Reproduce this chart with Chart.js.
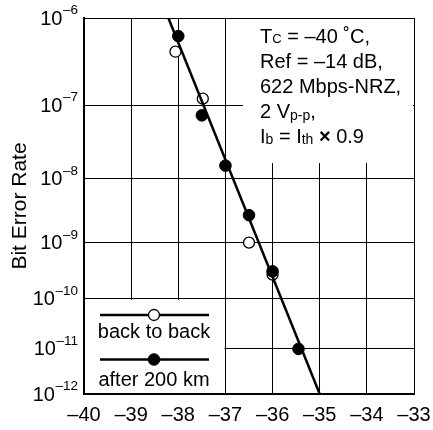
<!DOCTYPE html>
<html>
<head>
<meta charset="utf-8">
<script src="https://cdn.jsdelivr.net/npm/chart.js@4.4.1/dist/chart.umd.min.js"></script>
<style>
  body { margin: 0; background: #fff; }
  #wrap { width: 433px; height: 430px; }
</style>
</head>
<body>
<div id="wrap"><canvas id="chart" width="433" height="430"></canvas></div>
<script>
// received optical power (dBm) and bit error rate
const backX = [-38.06, -37.48, -36.5, -36.0];
const backBer = [4.3e-7, 1.2e-7, 1.0e-9, 2.8e-10];
const afterX = [-38.0, -37.5, -37.0, -36.5, -36.0, -35.45];
const afterBer = [6.4e-7, 7.4e-8, 1.55e-8, 2.8e-9, 3.2e-10, 1.0e-11];
// fitted line through the points
const fitX = [-38.21, -35.0];
const fitBer = [1e-6, 1e-12];

const xTicks = [-40, -39, -38, -37, -36, -35, -34, -33];
const berExps = [6, 7, 8, 9, 10, 11, 12];

const seriesNames = ['back to back', 'after 200 km'];
const noteLines = [
  [['T', 20, 0], ['C', 13, 0], [' = \u201340 \u02daC,', 20, 0]],
  [['Ref = \u201314 dB,', 20, 0]],
  [['622 Mbps-NRZ,', 20, 0]],
  [['2 V', 20, 0], ['p-p', 14, 2], [',', 20, 0]],
  [['I', 20, 0], ['b', 14, 1], [' = I', 20, 0], ['th', 14, 1], [' ', 20, 0], ['\u00d7', 'bold 20', 0], [' 0.9', 20, 0]]
];

const FONT = '"Liberation Sans", Arial, sans-serif';

// BER axis is not a plain log axis, the decades get closer going down
function tOf(exp) { return Math.pow(exp, -0.15); }
function tBer(ber) { return tOf(-Math.log10(ber)); }

function pts(xs, bers) {
  return xs.map((x, i) => ({ x: x, y: tBer(bers[i]) }));
}

// white boxes behind the legend and the note (they hide the grid)
const boxes = {
  id: 'boxes',
  beforeDatasetsDraw(chart) {
    const ctx = chart.ctx, a = chart.chartArea;
    const xs = chart.scales.x, ys = chart.scales.y;
    ctx.save();
    ctx.fillStyle = '#fff';
    // legend box: -40..-37, 1e-12..1e-10
    const lx = xs.getPixelForValue(-37);
    const ly = ys.getPixelForValue(tOf(10));
    ctx.fillRect(a.left + 1, ly + 1, lx - a.left - 2, a.bottom - ly - 2);
    // note box top right
    ctx.fillRect(a.left + 159, a.top + 1, a.right - a.left - 160, 144);
    ctx.restore();
  },
  afterDraw(chart) {
    const ctx = chart.ctx, a = chart.chartArea;
    const ys = chart.scales.y;
    ctx.save();
    ctx.fillStyle = '#000';
    ctx.textBaseline = 'alphabetic';

    // y tick labels 10^-n
    berExps.forEach(n => {
      const py = ys.getPixelForValue(tOf(n));
      ctx.font = '13.5px ' + FONT;
      const sup = '\u2013' + n;
      const sw = ctx.measureText(sup).width;
      ctx.textAlign = 'left';
      ctx.fillText(sup, 78 - sw, py - 4);
      ctx.font = '20px ' + FONT;
      ctx.textAlign = 'right';
      ctx.fillText('10', 78 - sw - 0.5, py + 6.5);
    });

    // y axis title
    ctx.save();
    ctx.translate(26, (a.top + a.bottom) / 2);
    ctx.rotate(-Math.PI / 2);
    ctx.textAlign = 'center';
    ctx.font = '21px ' + FONT;
    ctx.fillText('Bit Error Rate', 0, 0);
    ctx.restore();

    // note text
    ctx.textAlign = 'left';
    noteLines.forEach((runs, i) => {
      let px = a.left + 176;
      const base = a.top + 24.5 + i * 25.2;
      runs.forEach(r => {
        ctx.font = r[1] + 'px ' + FONT;
        ctx.fillText(r[0], px, base + r[2]);
        px += ctx.measureText(r[0]).width;
      });
    });

    // legend
    const cx = a.left + 70;
    const rows = [
      { ds: chart.data.datasets[2], lineY: a.bottom - 79, textY: a.bottom - 56 },
      { ds: chart.data.datasets[0], lineY: a.bottom - 34.5, textY: a.bottom - 8 }
    ];
    rows.forEach(r => {
      ctx.strokeStyle = '#000';
      ctx.lineWidth = 2.5;
      ctx.beginPath();
      ctx.moveTo(cx - 54, r.lineY);
      ctx.lineTo(cx + 55, r.lineY);
      ctx.stroke();
      ctx.beginPath();
      ctx.arc(cx, r.lineY, r.ds.pointRadius, 0, Math.PI * 2);
      ctx.fillStyle = r.ds.pointBackgroundColor;
      ctx.fill();
      ctx.lineWidth = r.ds.pointBorderWidth;
      ctx.stroke();
      ctx.fillStyle = '#000';
      ctx.font = '20px ' + FONT;
      ctx.textAlign = 'center';
      ctx.fillText(r.ds.label, cx, r.textY);
    });
    ctx.restore();
  }
};

const ctx = document.getElementById('chart').getContext('2d');

const myChart = new Chart(ctx, {
  type: 'scatter',
  data: {
    datasets: [
      {
        label: seriesNames[1],
        data: pts(afterX, afterBer),
        pointRadius: 5.8,
        pointBackgroundColor: '#000',
        pointBorderColor: '#000',
        pointBorderWidth: 1,
        showLine: false
      },
      {
        label: 'fit',
        data: pts(fitX, fitBer),
        showLine: true,
        borderColor: '#000',
        borderWidth: 2.5,
        pointRadius: 0
      },
      {
        label: seriesNames[0],
        data: pts(backX, backBer),
        pointRadius: 5.5,
        pointBackgroundColor: '#fff',
        pointBorderColor: '#000',
        pointBorderWidth: 1.3,
        showLine: false
      }
    ]
  },
  options: {
    responsive: false,
    animation: false,
    devicePixelRatio: 1,
    layout: { padding: { top: 18, right: 19, left: 0, bottom: 0 } },
    plugins: { legend: { display: false }, tooltip: { enabled: false } },
    scales: {
      x: {
        type: 'linear',
        min: -40,
        max: -33,
        afterBuildTicks: s => { s.ticks = xTicks.map(v => ({ value: v })); },
        afterFit: s => { s.height = 36; s.paddingLeft = 0; s.paddingRight = 0; },
        ticks: {
          color: '#000',
          font: { family: FONT, size: 20 },
          padding: 9,
          maxRotation: 0,
          callback: v => '\u2013' + Math.abs(v)
        },
        grid: { color: '#000', lineWidth: 1, drawTicks: false },
        border: { color: '#000', width: 2 }
      },
      y: {
        type: 'linear',
        min: tOf(12),
        max: tOf(6),
        afterBuildTicks: s => { s.ticks = berExps.map(n => ({ value: tOf(n) })); },
        afterFit: s => { s.width = 84; s.paddingTop = 0; s.paddingBottom = 0; },
        ticks: { display: false },
        grid: { color: '#000', lineWidth: 1, drawTicks: false },
        border: { color: '#000', width: 2 }
      }
    }
  },
  plugins: [boxes]
});
</script>
</body>
</html>
